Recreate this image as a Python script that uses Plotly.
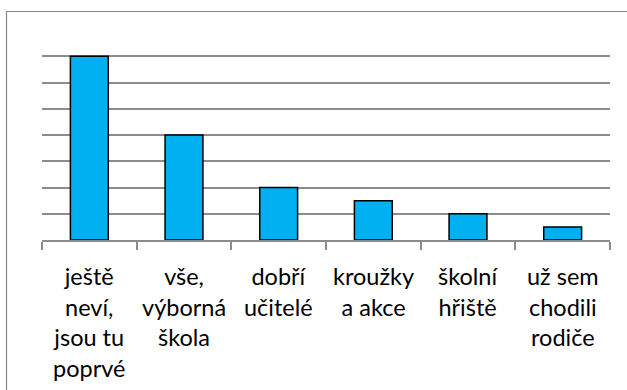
import plotly.graph_objects as go

# Categories (multi-line labels) and counts
categories = ["ještě<br>neví,<br>jsou tu<br>poprvé",
              "vše,<br>výborná<br>škola",
              "dobří<br>učitelé",
              "kroužky<br>a akce",
              "školní<br>hřiště",
              "už sem<br>chodili<br>rodiče"]
keys = ["c1", "c2", "c3", "c4", "c5", "c6"]
values = [7, 4, 2, 1.5, 1, 0.5]

W, H = 627, 390
ML, MR, MT, MB = 42, 17, 30, 150
PW, PH = W - ML - MR, H - MT - MB

fig = go.Figure(go.Bar(
    x=keys, y=values,
    marker=dict(color="#00B0F0", line=dict(color="#000000", width=1.5)),
    width=0.4,
))

GRID = "#8c8c8c"
fig.update_layout(
    width=W, height=H,
    margin=dict(l=ML, r=MR, t=MT, b=MB, pad=0),
    paper_bgcolor="white", plot_bgcolor="white",
    showlegend=False,
    xaxis=dict(
        type="category", showticklabels=False,
        ticks="outside", tickson="boundaries", ticklen=8,
        tickcolor=GRID, tickwidth=1.5,
        showline=True, linecolor=GRID, linewidth=1.5,
        showgrid=False, zeroline=False,
    ),
    yaxis=dict(
        range=[0, 8], dtick=1, showticklabels=False,
        showgrid=True, gridcolor=GRID, gridwidth=1.5,
        zeroline=False, showline=False, ticks="",
    ),
)

# category labels below the axis
for k, lab in zip(keys, categories):
    fig.add_annotation(
        x=k, xref="x", y=-0.093, yref="paper",
        text=lab, showarrow=False, yanchor="top", xanchor="center",
        align="center",
        font=dict(family="Lato", size=23.5, color="#000000"),
    )

# chart frame
def px_x(p):
    return (p - ML) / PW

def px_y(p):
    return (MT + PH - p) / PH

fig.add_shape(type="rect", xref="paper", yref="paper",
              x0=px_x(6.5), x1=px_x(640), y0=px_y(11.5), y1=px_y(400),
              line=dict(color="#888888", width=1.2), fillcolor="rgba(0,0,0,0)")

fig.write_html("out.html")
